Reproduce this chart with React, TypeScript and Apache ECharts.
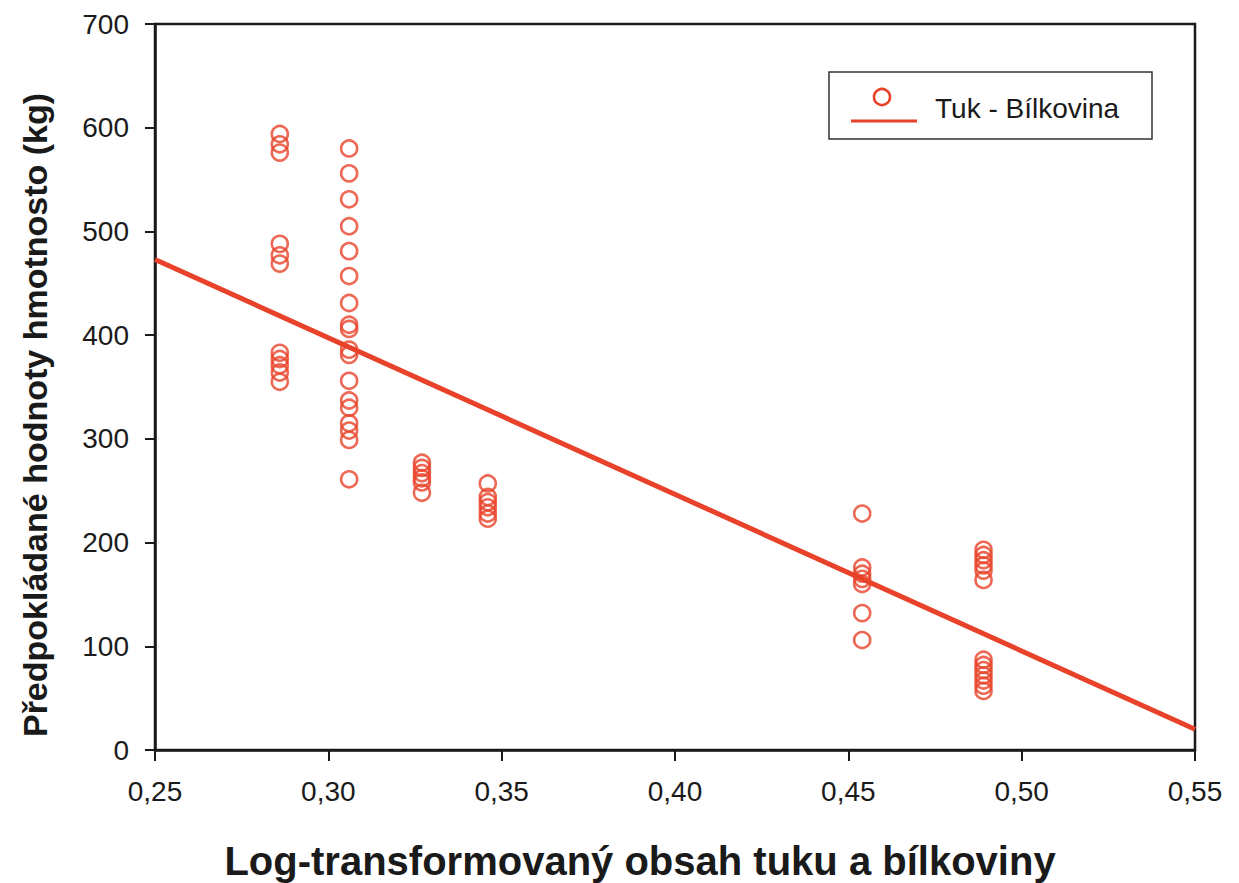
import React, { useEffect, useRef } from "react";
import * as echarts from "echarts";

const seriesName = "Tuk - Bílkovina";
const xTitle = "Log-transformovaný obsah tuku a bílkoviny";
const yTitle = "Předpokládané hodnoty hmotnosto (kg)";

const columnX = [0.286, 0.306, 0.327, 0.346, 0.454, 0.489];
const col1 = [594, 584, 576, 488, 477, 469, 383, 377, 371, 364, 355];
const col2 = [580, 556, 531, 505, 481, 457, 431, 410, 406, 386, 381, 356, 337, 330, 315, 308, 299, 261];
const col3 = [277, 272, 267, 262, 258, 248];
const col4 = [257, 244, 239, 234, 228, 223];
const col5 = [228, 176, 170, 165, 160, 132, 106];
const col6 = [193, 188, 183, 178, 173, 164, 87, 82, 77, 72, 67, 62, 57];
const columnsY = [col1, col2, col3, col4, col5, col6];

const fitX = [0.25, 0.55];
const fitY = [473, 20];

const RED = "#e8432a";
const INK = "#1a1a1a";

export default function App() {
  const ref = useRef<HTMLDivElement>(null);
  useEffect(() => {
    if (!ref.current) return;
    const chart = echarts.init(ref.current, undefined, { renderer: "svg" });
    const points: number[][] = [];
    columnsY.forEach((ys, i) => ys.forEach((y) => points.push([columnX[i], y])));
    const fit = fitX.map((x, i) => [x, fitY[i]]);
    chart.setOption({
      animation: false,
      backgroundColor: "#fff",
      grid: {
        left: 155,
        right: 44,
        top: 24,
        bottom: 133,
        show: true,
        borderColor: INK,
        borderWidth: 2.5,
        backgroundColor: "transparent",
      },
      xAxis: {
        type: "value",
        min: 0.25,
        max: 0.55,
        interval: 0.05,
        axisLine: { show: true, lineStyle: { color: INK, width: 2.5 } },
        axisTick: { show: true, length: 11, lineStyle: { color: INK, width: 2 } },
        splitLine: { show: false },
        axisLabel: {
          color: INK,
          fontSize: 28,
          fontFamily: "Liberation Sans, Arial, sans-serif",
          margin: 27,
          formatter: (v: number) => v.toFixed(2).replace(".", ","),
        },
      },
      yAxis: {
        type: "value",
        min: 0,
        max: 700,
        interval: 100,
        axisLine: { show: true, lineStyle: { color: INK, width: 2.5 } },
        axisTick: { show: true, length: 10, lineStyle: { color: INK, width: 2 } },
        splitLine: { show: false },
        axisLabel: {
          color: INK,
          fontSize: 28,
          fontFamily: "Liberation Sans, Arial, sans-serif",
          margin: 26,
        },
      },
      series: [
        {
          name: seriesName,
          type: "scatter",
          data: points,
          symbol: "circle",
          symbolSize: 16,
          itemStyle: { color: "transparent", borderColor: RED, borderWidth: 2.6 },
          z: 3,
        },
        {
          name: seriesName + " fit",
          type: "line",
          data: fit,
          symbol: "none",
          lineStyle: { color: RED, width: 5 },
          z: 4,
        },
      ],
      graphic: [
        {
          type: "rect",
          shape: { x: 829, y: 72, width: 323, height: 67 },
          style: { fill: "#fff", stroke: "#333", lineWidth: 1.5 },
          z: 10,
        },
        {
          type: "circle",
          shape: { cx: 882, cy: 97, r: 8 },
          style: { fill: "none", stroke: RED, lineWidth: 2.6 },
          z: 11,
        },
        {
          type: "line",
          shape: { x1: 851, y1: 121, x2: 917, y2: 121 },
          style: { stroke: RED, lineWidth: 3 },
          z: 11,
        },
        {
          type: "text",
          x: 935,
          y: 108,
          style: {
            text: seriesName,
            fill: INK,
            font: "28px 'Liberation Sans', Arial, sans-serif",
            textVerticalAlign: "middle",
            verticalAlign: "middle",
          },
          z: 11,
        },
        {
          type: "text",
          x: 640,
          y: 861,
          style: {
            text: xTitle,
            fill: INK,
            font: "bold 40px 'Liberation Sans', Arial, sans-serif",
            textAlign: "center",
            align: "center",
            textVerticalAlign: "middle",
            verticalAlign: "middle",
          },
        },
        {
          type: "text",
          x: 35,
          y: 415,
          rotation: Math.PI / 2,
          style: {
            text: yTitle,
            fill: INK,
            font: "bold 34px 'Liberation Sans', Arial, sans-serif",
            textAlign: "center",
            align: "center",
            textVerticalAlign: "middle",
            verticalAlign: "middle",
          },
        },
      ],
    });
    return () => chart.dispose();
  }, []);
  return (
    <div
      ref={ref}
      style={{ position: "absolute", left: 0, top: 0, width: 1239, height: 883 }}
    />
  );
}
